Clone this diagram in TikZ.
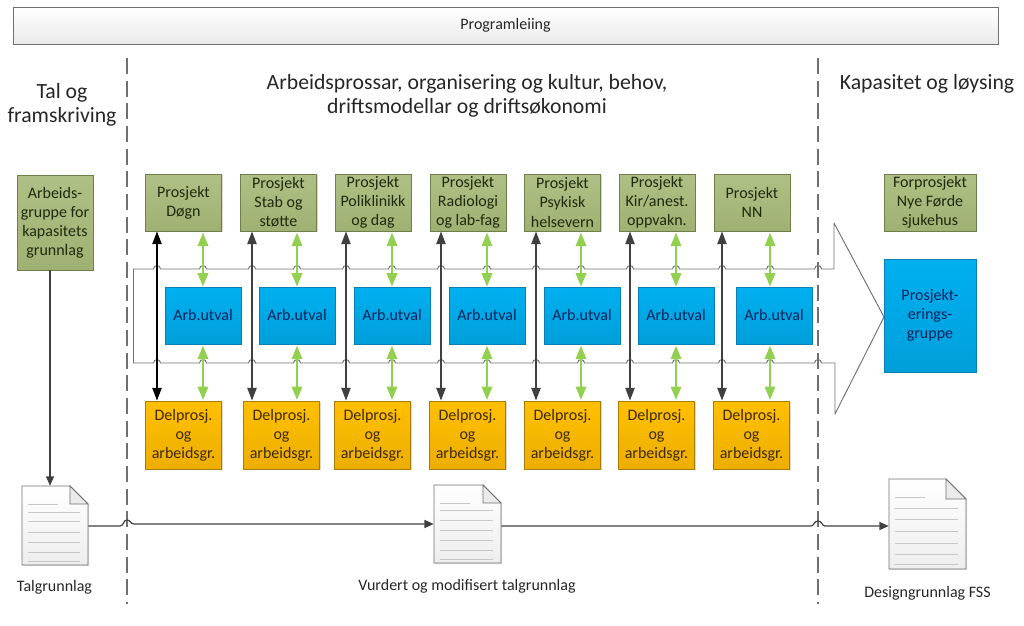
\documentclass[tikz,border=0pt]{standalone}
\usepackage{fontspec}
\setmainfont{Carlito}
\usetikzlibrary{arrows.meta,shadows,calc}
\definecolor{oliveT}{HTML}{AFC086}
\definecolor{oliveB}{HTML}{9FB172}
\definecolor{oliveD}{HTML}{6F7F4A}
\definecolor{oliveX}{HTML}{1E2A0C}
\definecolor{blueT}{HTML}{00B0F0}
\definecolor{blueB}{HTML}{009FDA}
\definecolor{blueD}{HTML}{0A7FB5}
\definecolor{blueX}{HTML}{00245E}
\definecolor{orT}{HTML}{FFC000}
\definecolor{orB}{HTML}{EDAE00}
\definecolor{orD}{HTML}{A87C08}
\definecolor{orX}{HTML}{3F2A00}
\definecolor{grn}{HTML}{92D050}
\definecolor{dk}{HTML}{404040}
\definecolor{ln}{HTML}{707070}
\tikzset{
  base/.style={draw,line width=0.7pt,inner sep=0pt,align=center,font=\fontsize{12}{14.25}\selectfont,
    general shadow={fill=black!45,opacity=.35,shadow xshift=.9pt,shadow yshift=-.9pt}},
  olive/.style={base,draw=oliveD,top color=oliveT,bottom color=oliveB,text=oliveX,minimum width=57pt,minimum height=42.75pt},
  blue/.style={base,draw=blueD,top color=blueT,bottom color=blueB,text=blueX,minimum width=57pt,minimum height=42.75pt},
  orange/.style={base,draw=orD,top color=orT,bottom color=orB,text=orX,minimum width=57pt,minimum height=51pt},
  head/.style={inner sep=0pt,align=center,text=black!85,font=\fontsize{16.3}{18}\selectfont},
  small/.style={inner sep=0pt,align=center,text=black!85,font=\fontsize{12}{14}\selectfont},
  divider/.style={draw=ln,line width=0.9pt,dash pattern=on 12pt off 5pt},
  darrow/.style={draw=dk,line width=1pt,{Triangle[width=7pt,length=9.5pt]}-{Triangle[width=7pt,length=9.5pt]}},
  garrow/.style={draw=grn,line width=1.1pt,{Triangle[width=8pt,length=10pt]}-{Triangle[width=8pt,length=10pt]}},
  farrow/.style={draw=dk,line width=0.9pt,-{Triangle[width=6pt,length=7pt]}},
  outline/.style={draw=ln,line width=0.7pt,line join=round},
  docbox/.style={inner sep=0pt,draw=none},
  docline/.style={draw=black!22,line width=0.45pt},
}
% doc icon: name, left, top, right, bottom, fold
\newcommand\docicon[6]{%
  \node[docbox,minimum width={(#4-#2)*0.75pt},minimum height={(#5-#3)*0.75pt}] (#1) at ({(#2+#4)/2},{(#3+#5)/2}) {};
  \fill[black!30,opacity=.4] (#2+1,#3+1) -- (#4-#6+1,#3+1) -- (#4+1,#3+#6+1) -- (#4+1,#5+1) -- (#2+1,#5+1) -- cycle;
  \path[draw=ln,line width=0.7pt,top color=white,bottom color=black!7] (#2,#3) -- (#4-#6,#3) -- (#4,#3+#6) -- (#4,#5) -- (#2,#5) -- cycle;
  \path[draw=ln,line width=0.7pt,fill=black!8] (#4-#6,#3) -- (#4-#6,#3+#6) -- (#4,#3+#6) -- cycle;
  \draw[docline] (#2+6,#3+18) -- (#2+36,#3+18);
  \foreach \f in {0.33,0.45,0.58,0.71,0.84,0.95}{
    \draw[docline] (#2+6,{#3+(#5-#3)*\f}) -- (#4-8,{#3+(#5-#3)*\f});
  }
}
\begin{document}
\begin{tikzpicture}[x=0.75pt,y=-0.75pt]
\useasboundingbox (0,0) rectangle (1024,625);
% top bar
\node[base,draw=ln,top color=white,bottom color=black!8,text=black!85,minimum width=738.75pt,minimum height=27.75pt] (prog) at (505.5,25.5) {Programleiing};
% headings
\node[head] (h1) at (62,104.5) {Tal og\\framskriving};
\node[head] (h2) at (467,95.5) {Arbeidsprossar, organisering og kultur, behov,\\driftsmodellar og driftsøkonomi};
\node[head] (h3) at (927,83.5) {Kapasitet og løysing};
% dividers
\coordinate (v1a) at (127,58); \coordinate (v1b) at (127,604);
\coordinate (v2a) at (818,58); \coordinate (v2b) at (818,604);
\draw[divider] (v1a) -- (v1b);
\draw[divider] (v2a) -- (v2b);
% large outline arrow
\draw[outline] (884,317) -- (834,223) -- (834,269)
  foreach \x in {818,770,722,676,630,581,536,487,441,392,346,297,252,203,157}{
    -- (\x+3.5,269) .. controls (\x+3.5,264.5) and (\x-3.5,264.5) .. (\x-3.5,269)
  } -- (133.5,269) -- (133.5,363)
  foreach \x in {157,203,252,297,346,392,441,487,536,581,630,676,722,770,818}{
    -- (\x-3.5,363) .. controls (\x-3.5,358.5) and (\x+3.5,358.5) .. (\x+3.5,363)
  } -- (835,363) -- (835,414) -- cycle;
% columns
\foreach \i/\tl/\al/\dl/\bx/\gx/\ttxt in {
  1/145.5/165/146/157/203/{Prosjekt\\Døgn},
  2/240.5/259/244/252/297/{Prosjekt\\Stab og\\støtte},
  3/335/354/335/346/392/{Prosjekt\\Poliklinikk\\og dag},
  4/430/449/430/441/487/{Prosjekt\\Radiologi\\og lab-fag},
  5/524.5/544/525/536/581/{Prosjekt\\Psykisk\\helsevern},
  6/619/638/619/630/676/{Prosjekt\\Kir/anest.\\oppvakn.},
  7/714/736/714/722/770/{Prosjekt\\NN}}{
  \node[olive] (t\i) at (\tl+38,202.5) {\ttxt};
  \node[blue] (a\i) at (\al+38,315.5) {Arb.utval};
  \node[orange] (d\i) at (\dl+37.5,435) {Delprosj.\\og\\arbeidsgr.};
  \coordinate (b\i) at (\bx,300);
  \coordinate (g\i) at (\gx,300);
  \ifnum\i=1
    \draw[darrow,draw=black] (t\i.south -| b\i) -- (d\i.north -| b\i);
  \else
    \draw[darrow] (t\i.south -| b\i) -- (d\i.north -| b\i);
  \fi
  \draw[garrow,shorten <=1pt] (t\i.south -| g\i) -- (a\i.north -| g\i);
  \draw[garrow,shorten >=0.5pt,shorten <=1pt] (a\i.south -| g\i) -- (d\i.north -| g\i);
}
% left and right columns
\node[olive,minimum height=71.25pt] (ag) at (55,222.5) {Arbeids-\\gruppe for\\kapasitets\\grunnlag};
\node[olive,minimum width=69pt] (fp) at (930,202.5) {Forprosjekt\\Nye Førde\\sjukehus};
\node[blue,minimum width=69pt,minimum height=84.75pt] (pg) at (930,315.5) {Prosjekt-\\erings-\\gruppe};
% documents
\docicon{doca}{22}{486}{88}{565}{18}
\docicon{docb}{434}{485}{501}{563}{18}
\docicon{docc}{889}{479}{966}{569}{20}
\node[small] (la) at (54.5,587) {Talgrunnlag};
\node[small] (lb) at (467,586) {Vurdert og modifisert talgrunnlag};
\node[small] (lc) at (927.5,593) {Designgrunnlag FSS};
% flow
\coordinate (k1) at (50,300);
\draw[farrow] (ag.south -| k1) -- (doca.north -| k1);
\draw[farrow]
  ([yshift=-0.4pt]doca.east) -- (120,526) .. controls (124,526) and (123,520) .. (127,520) .. controls (131,520) and (130,524) .. (134,524) -- (docb.west);
\draw[farrow]
  ([yshift=-1.5pt]docb.east) -- (811,526) .. controls (814,526) and (814,521) .. (818,521) .. controls (822,521) and (822,526) .. (825,526) -- ([yshift=-1.5pt]docc.west);
\end{tikzpicture}
\end{document}
